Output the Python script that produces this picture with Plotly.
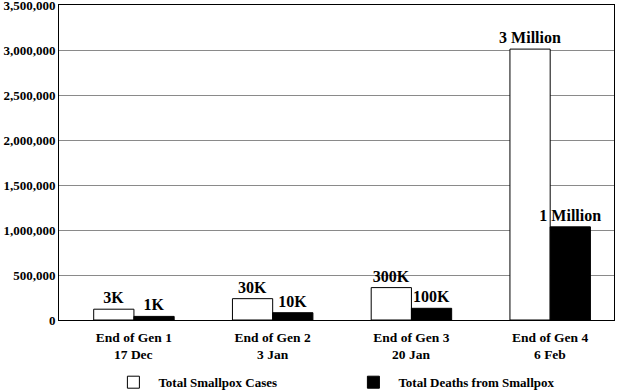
import plotly.graph_objects as go

generations = ["End of Gen 1", "End of Gen 2", "End of Gen 3", "End of Gen 4"]
dates = ["17 Dec", "3 Jan", "20 Jan", "6 Feb"]
cases = [120000, 237000, 360000, 3010000]
deaths = [40000, 81000, 130000, 1035000]
case_labels = ["3K", "30K", "300K", "3 Million"]
death_labels = ["1K", "10K", "100K", "1 Million"]
tick_vals = [0, 500000, 1000000, 1500000, 2000000, 2500000, 3000000, 3500000]

FONT = "Liberation Serif"

fig = go.Figure()
fig.add_trace(go.Bar(
    x=generations, y=cases, name="Total Smallpox Cases",
    marker=dict(color="white", line=dict(color="black", width=1)),
    text=case_labels, textposition="outside", cliponaxis=False, constraintext="none",
    textfont=dict(family=FONT, size=16, color="black", weight="bold"),
))
fig.add_trace(go.Bar(
    x=generations, y=deaths, name="Total Deaths from Smallpox",
    marker=dict(color="black", line=dict(color="black", width=1)),
    text=death_labels, textposition="outside", cliponaxis=False, constraintext="none",
    textfont=dict(family=FONT, size=16, color="black", weight="bold"),
))

for g, d in zip(generations, dates):
    fig.add_annotation(x=g, y=0, xref="x", yref="y", text=d, showarrow=False,
                       yanchor="top", yshift=-26, borderpad=0,
                       font=dict(family=FONT, size=13.5, color="black", weight="bold"))

fig.update_layout(
    width=618, height=390,
    margin=dict(l=59, r=4, t=5, b=70, autoexpand=False),
    paper_bgcolor="white", plot_bgcolor="white",
    font=dict(family=FONT, size=13, color="black", weight="bold"),
    barmode="group", bargap=0.42, bargroupgap=0,
    showlegend=True,
    legend=dict(orientation="h", x=0.089, xanchor="left", y=-0.15, yanchor="top",
                itemwidth=40, entrywidth=185, entrywidthmode="pixels",
                font=dict(family=FONT, size=13, color="black", weight="bold")),
)
fig.update_xaxes(
    range=[-0.54, 3.46], showline=True, linecolor="black", linewidth=1, mirror=True,
    showgrid=False, ticks="", automargin=False, ticklabelstandoff=5,
    tickfont=dict(family=FONT, size=13.5, weight="bold"),
)
fig.update_yaxes(
    range=[0, 3500000], tickvals=tick_vals, tickformat=",d",
    showline=True, linecolor="black", linewidth=1, mirror=True,
    showgrid=True, gridcolor="#8a8a8a", gridwidth=1, zeroline=False, ticks="",
    automargin=False, ticklabeloverflow="allow",
    tickfont=dict(family=FONT, size=13, weight="bold"),
)

fig.write_html("out.html", config={"displayModeBar": False},
               post_script="document.body.style.margin='0';document.body.style.overflow='hidden';")
